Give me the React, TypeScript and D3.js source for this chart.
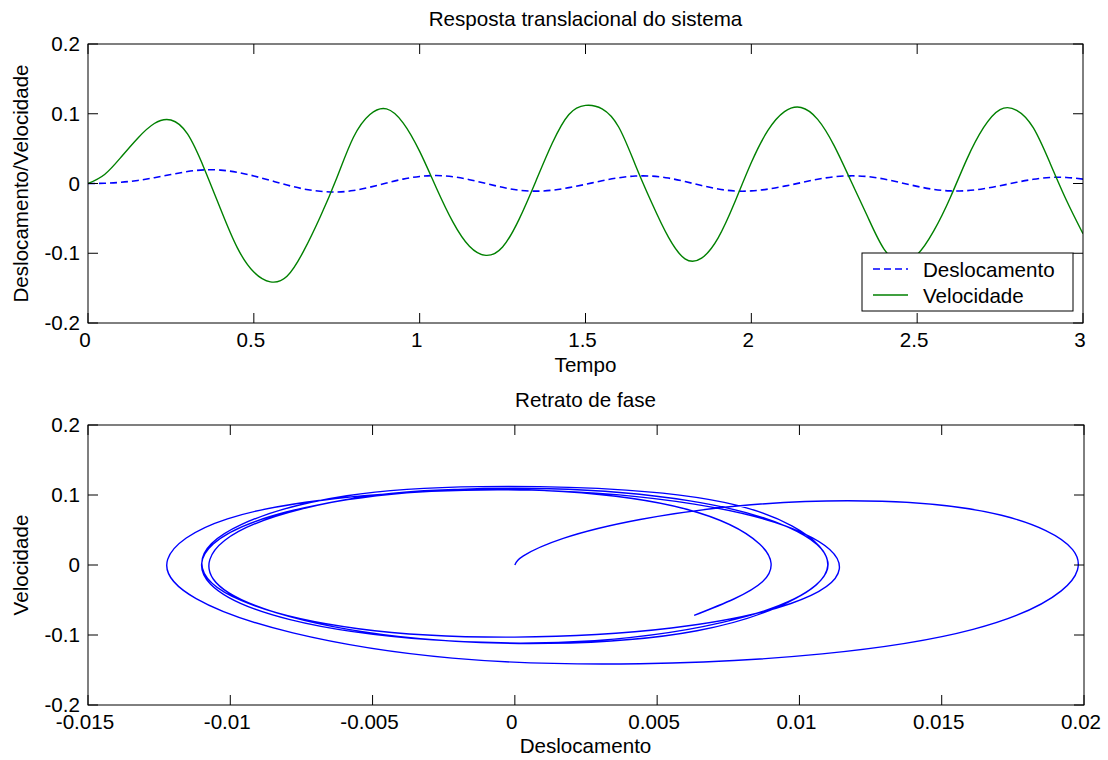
import React, { useEffect, useRef } from 'react'
import * as d3 from 'd3'

// time series (step 0.05 s)
const tempo = [
  0, 0.05, 0.1, 0.15, 0.2, 0.25, 0.3, 0.35, 0.4, 0.45,
  0.5, 0.55, 0.6, 0.65, 0.7, 0.75, 0.8, 0.85, 0.9, 0.95,
  1, 1.05, 1.1, 1.15, 1.2, 1.25, 1.3, 1.35, 1.4, 1.45,
  1.5, 1.55, 1.6, 1.65, 1.7, 1.75, 1.8, 1.85, 1.9, 1.95,
  2, 2.05, 2.1, 2.15, 2.2, 2.25, 2.3, 2.35, 2.4, 2.45,
  2.5, 2.55, 2.6, 2.65, 2.7, 2.75, 2.8, 2.85, 2.9, 2.95,
  3
]

const deslocamento = [
  0, 0.0003, 0.0017, 0.0044, 0.0083, 0.0129, 0.0171, 0.0196, 0.0192, 0.0161,
  0.0108, 0.0044, -0.0022, -0.0078, -0.0112, -0.0122, -0.0101, -0.0053, 0.0006, 0.0063,
  0.0101, 0.0114, 0.0097, 0.0055, 0.0, -0.0055, -0.0096, -0.011, -0.0096, -0.0059,
  -0.0012, 0.0039, 0.0082, 0.0107, 0.0106, 0.0078, 0.0028, -0.0029, -0.0079, -0.0107,
  -0.0106, -0.008, -0.0038, 0.0012, 0.0061, 0.0096, 0.011, 0.0099, 0.0064, 0.0012,
  -0.0041, -0.0084, -0.0106, -0.0102, -0.0075, -0.0032, 0.0017, 0.006, 0.0086, 0.0087,
  0.0063
]

const velocidade = [
  0, 0.013, 0.038, 0.065, 0.086, 0.091, 0.071, 0.022, -0.037, -0.092,
  -0.127, -0.141, -0.133, -0.097, -0.048, 0.008, 0.066, 0.099, 0.107, 0.087,
  0.046, -0.006, -0.055, -0.09, -0.103, -0.091, -0.051, 0.003, 0.058, 0.099,
  0.112, 0.107, 0.081, 0.027, -0.028, -0.077, -0.108, -0.107, -0.078, -0.027,
  0.03, 0.076, 0.103, 0.109, 0.092, 0.054, 0.004, -0.047, -0.094, -0.112,
  -0.102, -0.068, -0.02, 0.035, 0.08, 0.106, 0.105, 0.08, 0.03, -0.024,
  -0.072
]

const tempoTicks = [0, 0.5, 1, 1.5, 2, 2.5, 3]
const respostaTicks = [-0.2, -0.1, 0, 0.1, 0.2]
const faseXTicks = [-0.015, -0.01, -0.005, 0, 0.005, 0.01, 0.015, 0.02]
const faseYTicks = [-0.2, -0.1, 0, 0.1, 0.2]

const legendLabels = ['Deslocamento', 'Velocidade']

const FONT = '"Liberation Sans", Arial, Helvetica, sans-serif'
const FS = 20.6
const BLUE = '#0000ff'
const GREEN = '#008000'

function drawFrame(g, x, y, xTicks, yTicks) {
  const [x0, x1] = x.range()
  const [y0, y1] = y.range() // y0 = bottom, y1 = top
  const tick = 10

  // ticks on all four sides, pointing in
  xTicks.forEach(t => {
    g.append('line').attr('x1', x(t)).attr('x2', x(t)).attr('y1', y0).attr('y2', y0 - tick)
      .attr('stroke', '#000')
    g.append('line').attr('x1', x(t)).attr('x2', x(t)).attr('y1', y1).attr('y2', y1 + tick)
      .attr('stroke', '#000')
    g.append('text')
      .attr('x', x(t) - 3)
      .attr('y', y0 + 24)
      .attr('text-anchor', 'middle')
      .style('font-family', FONT)
      .style('font-size', FS + 'px')
      .text(String(t))
  })
  yTicks.forEach(t => {
    g.append('line').attr('x1', x0).attr('x2', x0 + tick).attr('y1', y(t)).attr('y2', y(t))
      .attr('stroke', '#000')
    g.append('line').attr('x1', x1).attr('x2', x1 - tick).attr('y1', y(t)).attr('y2', y(t))
      .attr('stroke', '#000')
    g.append('text')
      .attr('x', x0 - 8)
      .attr('y', y(t) + 7)
      .attr('text-anchor', 'end')
      .style('font-family', FONT)
      .style('font-size', FS + 'px')
      .text(String(t))
  })

  g.append('rect')
    .attr('x', x0).attr('y', y1)
    .attr('width', x1 - x0).attr('height', y0 - y1)
    .attr('fill', 'none')
    .attr('stroke', '#000')
}

function addText(svg, txt, x, y, rotate = false) {
  const t = svg.append('text')
    .attr('text-anchor', 'middle')
    .style('font-family', FONT)
    .style('font-size', FS + 'px')
    .text(txt)
  if (rotate) {
    t.attr('transform', 'translate(' + x + ',' + y + ') rotate(-90)')
  } else {
    t.attr('x', x).attr('y', y)
  }
}

export default function App() {
  const ref = useRef(null)

  useEffect(() => {
    const svg = d3.select(ref.current)
    svg.selectAll('*').remove()

    const idx = d3.range(tempo.length)

    // ---- top: resposta translacional
    const xT = d3.scaleLinear().domain([0, 3]).range([88, 1083])
    const yT = d3.scaleLinear().domain([-0.2, 0.2]).range([323, 44])

    svg.append('clipPath').attr('id', 'clipTop')
      .append('rect').attr('x', 88).attr('y', 44).attr('width', 995).attr('height', 279)

    const top = svg.append('g')
    const plotTop = top.append('g').attr('clip-path', 'url(#clipTop)')

    const lineDesl = d3.line()
      .x(i => xT(tempo[i]))
      .y(i => yT(deslocamento[i]))
      .curve(d3.curveNatural)
    const lineVel = d3.line()
      .x(i => xT(tempo[i]))
      .y(i => yT(velocidade[i]))
      .curve(d3.curveNatural)

    plotTop.append('path')
      .attr('d', lineDesl(idx))
      .attr('fill', 'none')
      .attr('stroke', BLUE)
      .attr('stroke-width', 1.6)
      .attr('stroke-dasharray', '7,4')
    plotTop.append('path')
      .attr('d', lineVel(idx))
      .attr('fill', 'none')
      .attr('stroke', GREEN)
      .attr('stroke-width', 1.4)

    drawFrame(top, xT, yT, tempoTicks, respostaTicks)

    // legend
    const leg = top.append('g')
    leg.append('rect')
      .attr('x', 862).attr('y', 253).attr('width', 211).attr('height', 58)
      .attr('fill', '#fff').attr('stroke', '#000')
    legendLabels.forEach((lab, k) => {
      const ly = 269 + k * 26
      leg.append('line')
        .attr('x1', 873).attr('x2', 908).attr('y1', ly).attr('y2', ly)
        .attr('stroke', k === 0 ? BLUE : GREEN)
        .attr('stroke-width', 1.6)
        .attr('stroke-dasharray', k === 0 ? '7,4' : null)
      leg.append('text')
        .attr('x', 923).attr('y', ly + 8)
        .style('font-family', FONT)
        .style('font-size', FS + 'px')
        .text(lab)
    })

    addText(svg, 'Resposta translacional do sistema', 585.5, 26)
    addText(svg, 'Tempo', 585.5, 372)
    addText(svg, 'Deslocamento/Velocidade', 28, 183.5, true)

    // ---- bottom: retrato de fase
    const xB = d3.scaleLinear().domain([-0.015, 0.02]).range([88, 1084])
    const yB = d3.scaleLinear().domain([-0.2, 0.2]).range([705, 425])

    svg.append('clipPath').attr('id', 'clipBot')
      .append('rect').attr('x', 88).attr('y', 425).attr('width', 996).attr('height', 280)

    const bot = svg.append('g')
    const lineFase = d3.line()
      .x(i => xB(deslocamento[i]))
      .y(i => yB(velocidade[i]))
      .curve(d3.curveNatural)

    bot.append('g').attr('clip-path', 'url(#clipBot)')
      .append('path')
      .attr('d', lineFase(idx))
      .attr('fill', 'none')
      .attr('stroke', BLUE)
      .attr('stroke-width', 1.4)

    drawFrame(bot, xB, yB, faseXTicks, faseYTicks)

    addText(svg, 'Retrato de fase', 585.5, 407)
    addText(svg, 'Deslocamento', 585.5, 753)
    addText(svg, 'Velocidade', 28, 565, true)
  }, [])

  return (
    <div style={{ position: 'absolute', left: 0, top: 0 }}>
      <svg ref={ref} width={1108} height={760} style={{ display: 'block', background: '#fff' }} />
    </div>
  )
}
